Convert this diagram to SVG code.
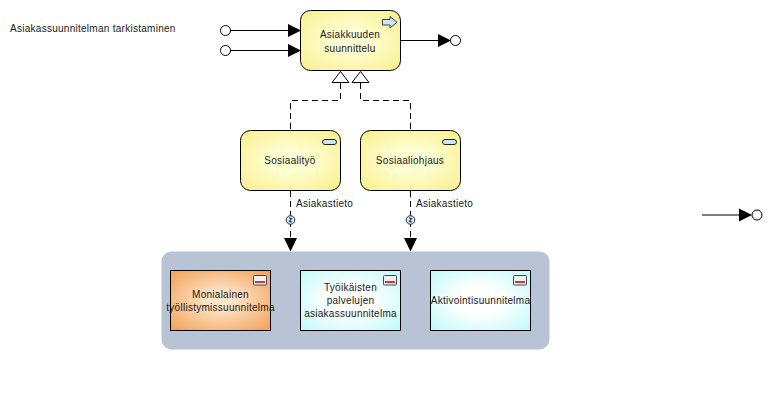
<svg xmlns="http://www.w3.org/2000/svg" width="771" height="410" viewBox="0 0 771 410">
<style>
text{font-family:"Liberation Sans",Arial,sans-serif;font-size:10px;letter-spacing:.27px;fill:#1a1a1a;text-anchor:middle}
.l{text-anchor:start}
.box{stroke:#000;stroke-width:1}
.y{fill:url(#yg)}
.c{fill:url(#cg)}
.o{fill:url(#og)}
.line{fill:none;stroke:#000;stroke-width:1}
.dash{fill:none;stroke:#000;stroke-width:1;stroke-dasharray:6 4}
.circ{fill:#fff;stroke:#000;stroke-width:1}
.tri{fill:#fff;stroke:#000;stroke-width:1}
.pill{fill:#cfe6f5;stroke:#222;stroke-width:1}
.flow{fill:#d5e8f5;stroke:#234;stroke-width:1}
.mark{fill:none;stroke:#234;stroke-width:1.200}
</style>
<defs>
<radialGradient id="yg" r="0.75"><stop offset="0.25" stop-color="#fffed2"/><stop offset="1" stop-color="#f8ee84"/></radialGradient>
<radialGradient id="cg" r="0.75"><stop offset="0.3" stop-color="#ffffff"/><stop offset="1" stop-color="#b8fafa"/></radialGradient>
<radialGradient id="og" r="0.75"><stop offset="0.15" stop-color="#fde6cc"/><stop offset="1" stop-color="#f29a4c"/></radialGradient>
<g id="doc"><rect x="0" y="0" width="13" height="9.500" rx="1" fill="#f0f0f0" stroke="#445"/><rect x="1.500" y="5.500" width="10" height="2" fill="#c8402c"/></g>
</defs>
<rect id="bg" width="771" height="410" fill="#fff"/>
<text id="title" class="l" x="10" y="32">Asiakassuunnitelman tarkistaminen</text>
<g id="connectors">
<circle class="circ" cx="225.500" cy="30.500" r="5"/><path class="line" d="M230 30.500H290"/><path d="M288 24L301 30.500L288 37Z"/>
<circle class="circ" cx="225.500" cy="50.500" r="5"/><path class="line" d="M230 50.500H290"/><path d="M288 44L301 50.500L288 57Z"/>
<path class="line" d="M401 40.500H440"/><path d="M438 34L451 40.500L438 47Z"/><circle class="circ" cx="455.500" cy="40.500" r="5"/>
<path class="dash" d="M340.500 83V100.500H290.500V130"/><path class="dash" d="M360.500 83V100.500H410.500V130"/>
<path class="tri" d="M340.500 71.500L332 82.500H349Z"/><path class="tri" d="M360.500 71.500L352 82.500H369Z"/>
<path class="dash" d="M290.500 191V238"/><path class="dash" d="M410.500 191V238"/>
<path d="M284 238H297L290.500 251.500Z"/><path d="M404 238H417L410.500 251.500Z"/>
<circle class="flow" cx="290.500" cy="220" r="4.300"/><path class="mark" d="M289 218L291.500 218.500L289.500 221.500L292 222"/>
<circle class="flow" cx="410.500" cy="220" r="4.300"/><path class="mark" d="M409 218L411.500 218.500L409.500 221.500L412 222"/>
<path class="line" d="M702 215H742"/><path d="M739 208.500L752 215L739 221.500Z"/><circle class="circ" cx="757" cy="215" r="5"/>
</g>
<text id="flow1" class="l" x="296" y="207">Asiakastieto</text>
<text id="flow2" class="l" x="416" y="207">Asiakastieto</text>
<g id="n-suunnittelu"><rect class="box y" x="300.500" y="10.500" width="100" height="60" rx="10"/>
<path d="M382.500 19.500H390V16.500L397 22.300L390 28V25H382.500Z" fill="#cfe6f8" stroke="#345"/>
<text x="350" y="37.500">Asiakkuuden</text><text x="350" y="51.500">suunnittelu</text></g>
<g id="n-sosiaalityo"><rect class="box y" x="240.500" y="130.500" width="100" height="60" rx="10"/>
<rect class="pill" x="322.500" y="139.500" width="14" height="5" rx="2.500"/><text x="290" y="164">Sosiaalityö</text></g>
<g id="n-sosiaaliohjaus"><rect class="box y" x="360.500" y="130.500" width="100" height="60" rx="10"/>
<rect class="pill" x="442.500" y="139.500" width="14" height="5" rx="2.500"/><text x="410" y="164">Sosiaaliohjaus</text></g>
<g id="n-container"><rect x="161.500" y="251.500" width="388" height="98" rx="10" fill="#b8c4d6"/></g>
<g id="n-monialainen"><rect class="box o" x="170.500" y="270.500" width="100" height="60"/><use href="#doc" x="253.500" y="275.500"/>
<text x="220.500" y="298">Monialainen</text><text x="220.500" y="311">työllistymissuunnitelma</text></g>
<g id="n-tyoikaisten"><rect class="box c" x="300.500" y="270.500" width="100" height="60"/><use href="#doc" x="383.500" y="275.500"/>
<text x="350.500" y="291">Työikäisten</text><text x="350.500" y="304">palvelujen</text><text x="350.500" y="317">asiakassuunnitelma</text></g>
<g id="n-aktivointi"><rect class="box c" x="430.500" y="270.500" width="100" height="60"/><use href="#doc" x="513.500" y="275.500"/>
<text x="480.500" y="304">Aktivointisuunnitelma</text></g>
</svg>
